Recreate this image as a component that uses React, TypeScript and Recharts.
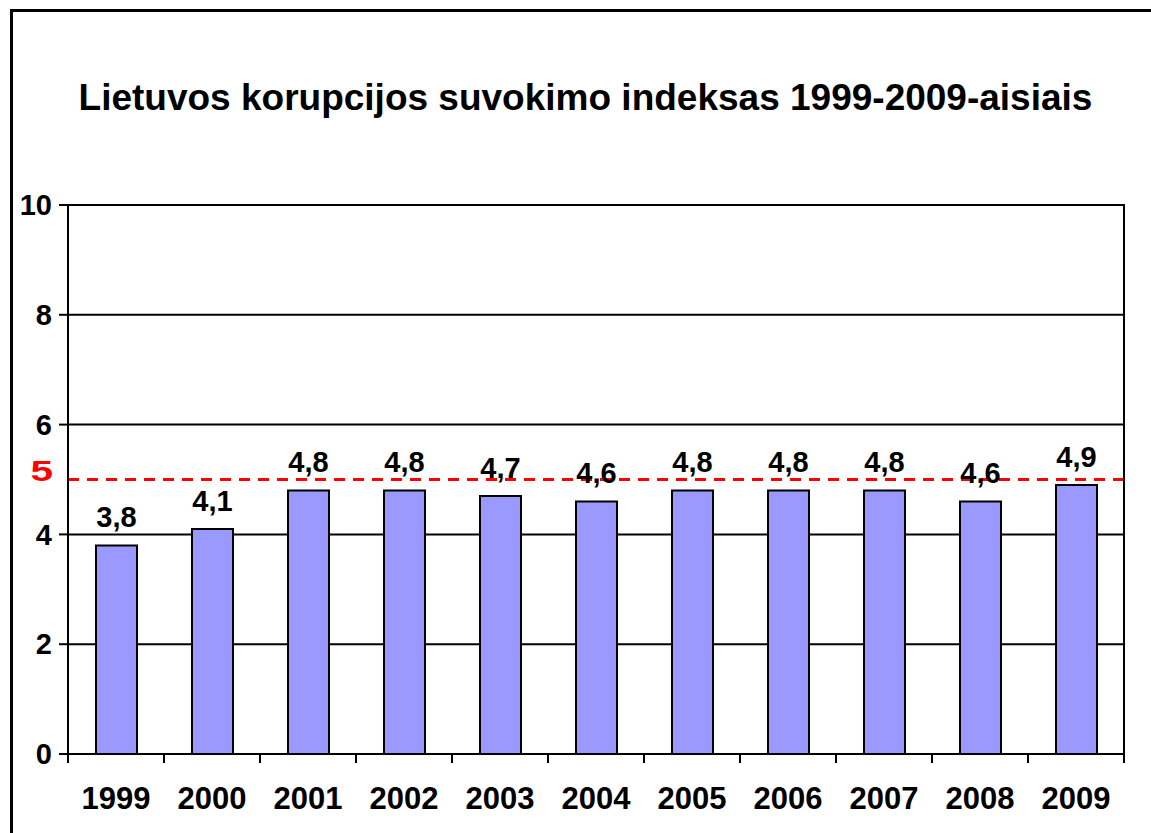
import { Bar, BarChart, CartesianGrid, LabelList, ReferenceLine, XAxis, YAxis } from "recharts";

const years = ["1999", "2000", "2001", "2002", "2003", "2004", "2005", "2006", "2007", "2008", "2009"];
const indexValues = [3.8, 4.1, 4.8, 4.8, 4.7, 4.6, 4.8, 4.8, 4.8, 4.6, 4.9];
const yTicks = [0, 2, 4, 6, 8, 10];
const threshold = 5;

const data = years.map((year, i) => ({ year, value: indexValues[i] }));

const FONT = "'Liberation Sans', Arial, sans-serif";
const comma = (v: number) => v.toFixed(1).replace(".", ",");
const LABEL_GAP = 33;

// Excel-style x axis: label centred in the category, tick marks on category edges
function YearTick(props: any) {
  const { x, y, payload, index } = props;
  const half = payload && payload.offset ? payload.offset : 48;
  const axisY = y - LABEL_GAP;
  return (
    <g>
      <line x1={x - half} x2={x - half} y1={axisY} y2={axisY + 9} stroke="#000" strokeWidth={2} />
      {index === years.length - 1 && (
        <line x1={x + half} x2={x + half} y1={axisY} y2={axisY + 9} stroke="#000" strokeWidth={2} />
      )}
      <text
        x={x}
        y={y}
        dy="0.71em"
        textAnchor="middle"
        style={{ fill: "#000", fontSize: 31, fontWeight: "bold", fontFamily: FONT }}
      >
        {payload.value}
      </text>
    </g>
  );
}

export default function App() {
  return (
    <div
      style={{
        position: "absolute",
        left: 0,
        top: 0,
        width: 1151,
        height: 833,
        overflow: "hidden",
        background: "#fff",
        fontFamily: FONT,
      }}
    >
      {/* outer chart frame */}
      <div
        style={{
          position: "absolute",
          left: 10,
          top: 9,
          width: 1200,
          height: 900,
          borderTop: "3px solid #000",
          borderLeft: "3px solid #000",
        }}
      />
      <div
        style={{
          position: "absolute",
          left: 0,
          width: 1171,
          top: 77,
          textAlign: "center",
          fontSize: 37,
          fontWeight: "bold",
          color: "#000",
        }}
      >
        Lietuvos korupcijos suvokimo indeksas 1999-2009-aisiais
      </div>
      <div style={{ position: "absolute", left: 0, top: 0 }}>
        <BarChart width={1151} height={833} data={data} margin={{ top: 205, right: 27, bottom: 19, left: 8 }}>
          <CartesianGrid horizontal vertical={false} stroke="#000" strokeWidth={2} />
          <XAxis
            dataKey="year"
            height={60}
            interval={0}
            tickSize={0}
            tickMargin={LABEL_GAP}
            axisLine={{ stroke: "#000", strokeWidth: 2 }}
            tick={<YearTick />}
          />
          <YAxis
            domain={[0, 10]}
            ticks={yTicks}
            width={60}
            tickSize={9}
            tickMargin={7}
            axisLine={{ stroke: "#000", strokeWidth: 2 }}
            tickLine={{ stroke: "#000", strokeWidth: 2 }}
            tick={{ fill: "#000", fontSize: 29, fontWeight: "bold", fontFamily: FONT }}
          />
          <Bar dataKey="value" fill="#9999FF" stroke="#000" strokeWidth={2} barSize={41} isAnimationActive={false}>
            <LabelList
              dataKey="value"
              position="top"
              offset={18}
              formatter={(v: any) => comma(Number(v))}
              style={{ fill: "#000", fontSize: 29, fontWeight: "bold", fontFamily: FONT }}
            />
          </Bar>
          <ReferenceLine
            y={threshold}
            stroke="#FF0000"
            strokeWidth={3}
            strokeDasharray="11 8"
            label={({ viewBox }: any) => (
              <text
                transform={`translate(${viewBox.x - 15}, ${viewBox.y + 1}) scale(1.35, 1)`}
                x={0}
                y={0}
                textAnchor="end"
                style={{ fill: "#FF0000", fontSize: 30, fontWeight: "bold", fontFamily: FONT }}
              >
                {threshold}
              </text>
            )}
          />
          <ReferenceLine y={10} stroke="#000" strokeWidth={2} />
        </BarChart>
      </div>
      {/* right border of the plot area */}
      <div style={{ position: "absolute", left: 1123, top: 204, width: 2, height: 551, background: "#000" }} />
    </div>
  );
}
